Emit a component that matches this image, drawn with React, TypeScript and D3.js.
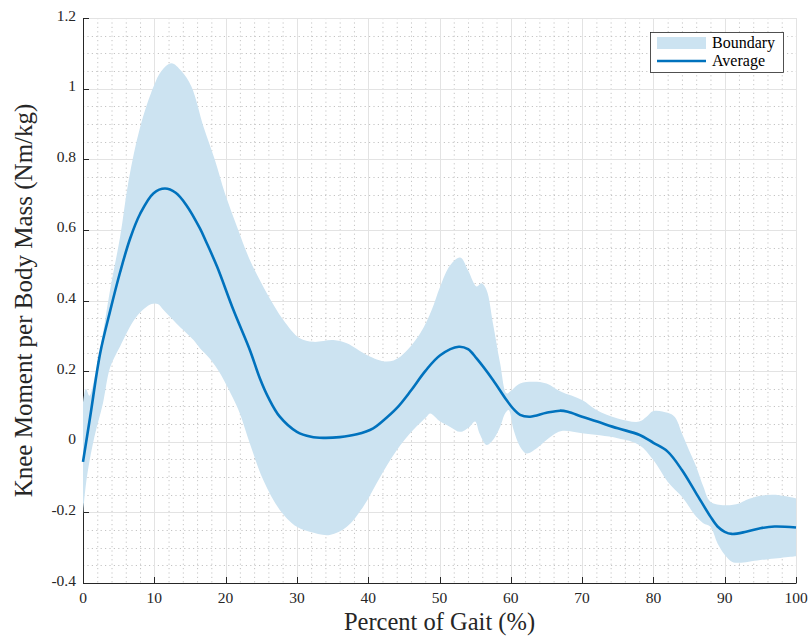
import React from 'react';
import * as d3 from 'd3';

// Upper boundary of the band (percent of gait, value)
const upperPct = [0, 0.4, 0.9, 1.6, 2.4, 3.8, 5.2, 6.4, 8, 9.9, 11, 12.4, 13.8, 15.2, 16.9, 18.5, 19.9, 21.6, 23.4, 25.8, 28.1, 30.4, 32.3, 35.1, 37, 39.8, 42.6, 44.5, 47.3, 48.9, 50.1, 51.5, 52.9, 54, 55.2, 55.9, 56.6, 57.5, 58.5, 59.4, 59.9, 61.3, 63.2, 65, 67, 70, 72, 75, 78, 79, 80, 82, 83, 84, 85, 86, 87, 88, 90, 92, 93, 95, 97, 100];
const upperVal = [0.11, 0.15, 0.13, 0.18, 0.26, 0.43, 0.58, 0.74, 0.89, 1.006, 1.05, 1.072, 1.05, 1.006, 0.892, 0.798, 0.704, 0.609, 0.515, 0.42, 0.345, 0.293, 0.283, 0.288, 0.279, 0.246, 0.227, 0.241, 0.307, 0.373, 0.44, 0.5, 0.522, 0.486, 0.44, 0.449, 0.43, 0.335, 0.222, 0.137, 0.142, 0.165, 0.17, 0.165, 0.142, 0.118, 0.09, 0.066, 0.057, 0.07, 0.087, 0.082, 0.07, 0.024, -0.024, -0.07, -0.127, -0.17, -0.18, -0.175, -0.165, -0.153, -0.15, -0.16];

// Lower boundary of the band
const lowerPct = [0, 0.3, 0.7, 1.6, 2.8, 3.8, 5.2, 7.5, 9.6, 10.5, 11.3, 13.1, 15.5, 16.4, 17.8, 19.2, 20, 21, 22, 23.4, 25.3, 27.6, 30, 31.8, 34.6, 37, 39.3, 41.7, 44, 46.3, 48.2, 48.7, 50.1, 51.5, 52.9, 54.2, 55, 55.6, 56.6, 57.5, 58.5, 59.2, 59.7, 60.4, 61.3, 62.2, 63.6, 65, 67, 70, 75, 78, 80, 82, 84, 86, 87, 88, 89, 90, 91, 92, 95, 100];
const lowerVal = [-0.205, -0.14, -0.08, 0.014, 0.109, 0.21, 0.27, 0.354, 0.39, 0.39, 0.373, 0.335, 0.288, 0.265, 0.235, 0.195, 0.165, 0.125, 0.08, -0.005, -0.109, -0.193, -0.241, -0.255, -0.264, -0.241, -0.184, -0.099, -0.024, 0.033, 0.071, 0.08, 0.057, 0.042, 0.028, 0.042, 0.057, 0.024, -0.009, 0.005, 0.042, 0.08, 0.09, 0.033, -0.014, -0.033, -0.019, 0.005, 0.03, 0.024, 0.01, -0.009, -0.052, -0.113, -0.156, -0.212, -0.231, -0.241, -0.288, -0.32, -0.34, -0.343, -0.335, -0.324];

// Average curve
const meanPct = [0, 1, 2.4, 3.8, 5.2, 6.6, 8, 9.9, 11.5, 13, 14.5, 16.4, 17.3, 18.8, 21.1, 23.4, 24.8, 26, 27.6, 30, 32, 33.7, 36, 38.4, 40.7, 42, 44, 46, 48, 50.1, 52.7, 54, 55.2, 57.5, 59.4, 60.5, 61.3, 62.7, 65, 66.9, 68, 70, 72, 75, 78, 80, 82, 84, 86, 88, 89, 90, 91, 93, 95, 97, 100];
const meanVal = [-0.057, 0.07, 0.25, 0.37, 0.48, 0.575, 0.645, 0.704, 0.717, 0.705, 0.67, 0.604, 0.565, 0.496, 0.373, 0.26, 0.18, 0.125, 0.071, 0.028, 0.014, 0.011, 0.013, 0.021, 0.038, 0.058, 0.095, 0.145, 0.2, 0.245, 0.269, 0.262, 0.236, 0.175, 0.118, 0.09, 0.076, 0.071, 0.082, 0.088, 0.085, 0.071, 0.058, 0.038, 0.02, -0.003, -0.028, -0.08, -0.146, -0.212, -0.24, -0.255, -0.261, -0.255, -0.245, -0.24, -0.243];

const xTicks = [0, 10, 20, 30, 40, 50, 60, 70, 80, 90, 100];
const xTickLabels = ['0', '10', '20', '30', '40', '50', '60', '70', '80', '90', '100'];
const yTicks = [-0.4, -0.2, 0, 0.2, 0.4, 0.6, 0.8, 1.0, 1.2];
const yTickLabels = ['-0.4', '-0.2', '0', '0.2', '0.4', '0.6', '0.8', '1', '1.2'];

const xLabel = 'Percent of Gait (%)';
const yLabel = 'Knee Moment per Body Mass (Nm/kg)';
const legendLabels = ['Boundary', 'Average'];

const FONT = '"Liberation Serif", "Times New Roman", serif';
const BAND = '#cce3f1';
const LINE = '#0072bd';
const AXIS = '#262626';

export default function App() {
  const W = 808;
  const H = 636;
  const L = 83, R = 796, T = 18, B = 583;
  const x = d3.scaleLinear().domain([0, 100]).range([L, R]);
  const y = d3.scaleLinear().domain([-0.4, 1.2]).range([B, T]);

  const up: [number, number][] = upperPct.map((p, i) => [p, upperVal[i]]);
  const lo: [number, number][] = lowerPct.map((p, i) => [p, lowerVal[i]]);
  const mn: [number, number][] = meanPct.map((p, i) => [p, meanVal[i]]);

  const curve = d3.curveCatmullRom.alpha(0.5);
  const areaBelowUpper = d3.area<[number, number]>()
    .x(d => x(d[0])).y0(B + 20).y1(d => y(d[1])).curve(curve);
  const areaAboveLower = d3.area<[number, number]>()
    .x(d => x(d[0])).y0(T - 20).y1(d => y(d[1])).curve(curve);
  const meanLine = d3.line<[number, number]>()
    .x(d => x(d[0])).y(d => y(d[1])).curve(curve);

  const minorX = d3.range(0, 101, 2).filter(v => v % 10 !== 0);
  const minorY = d3.range(-0.4, 1.2001, 0.05).filter(v => Math.abs(Math.round(v / 0.2) * 0.2 - v) > 1e-6);

  return (
    <svg width={W} height={H} style={{ position: 'absolute', left: 0, top: 0, background: '#fff' }} fontFamily={FONT}>
      <rect x={0} y={0} width={W} height={H} fill="#fff" />
      <defs>
        <clipPath id="plotArea">
          <rect x={L} y={T} width={R - L} height={B - T} />
        </clipPath>
        <clipPath id="aboveLower">
          <path d={areaAboveLower(lo) || ''} />
        </clipPath>
      </defs>
      {/* minor grid */}
      <g stroke="#c4c4c4" strokeWidth={1} strokeDasharray="1.2,3.2">
        {minorX.map(v => (
          <line key={'mx' + v} x1={x(v) + 0.5} x2={x(v) + 0.5} y1={T} y2={B} />
        ))}
        {minorY.map(v => (
          <line key={'my' + v} x1={L} x2={R} y1={Math.round(y(v)) + 0.5} y2={Math.round(y(v)) + 0.5} />
        ))}
      </g>
      {/* major grid */}
      <g stroke="#e3e3e3" strokeWidth={1}>
        {xTicks.map(v => (
          <line key={'gx' + v} x1={Math.round(x(v)) + 0.5} x2={Math.round(x(v)) + 0.5} y1={T} y2={B} />
        ))}
        {yTicks.map(v => (
          <line key={'gy' + v} x1={L} x2={R} y1={Math.round(y(v)) + 0.5} y2={Math.round(y(v)) + 0.5} />
        ))}
      </g>
      {/* axes */}
      <g stroke={AXIS} strokeWidth={1}>
        <line x1={L + 0.5} x2={L + 0.5} y1={T} y2={B + 0.5} />
        <line x1={L} x2={R + 0.5} y1={B + 0.5} y2={B + 0.5} />
        {xTicks.map(v => (
          <line key={'tx' + v} x1={Math.round(x(v)) + 0.5} x2={Math.round(x(v)) + 0.5} y1={B} y2={B - 6} />
        ))}
        {yTicks.map(v => (
          <line key={'ty' + v} x1={L} x2={L + 6} y1={Math.round(y(v)) + 0.5} y2={Math.round(y(v)) + 0.5} />
        ))}
      </g>
      {/* band */}
      <g clipPath="url(#plotArea)">
        <path d={areaBelowUpper(up) || ''} fill={BAND} clipPath="url(#aboveLower)" />
      </g>
      {/* mean */}
      <path d={meanLine(mn) || ''} fill="none" stroke={LINE} strokeWidth={2.6} strokeLinejoin="round" />
      {/* tick labels */}
      <g fontSize={15.5} fill={AXIS}>
        {xTicks.map((v, i) => (
          <text key={'lx' + v} x={x(v)} y={603} textAnchor="middle">{xTickLabels[i]}</text>
        ))}
        {yTicks.map((v, i) => (
          <text key={'ly' + v} x={76} y={y(v) + 2.5} textAnchor="end">{yTickLabels[i]}</text>
        ))}
      </g>
      {/* axis labels */}
      <text x={(L + R) / 2} y={630} textAnchor="middle" fontSize={24.5} fill={AXIS}>{xLabel}</text>
      <text transform={`translate(32,${(T + B) / 2}) rotate(-90)`} textAnchor="middle" fontSize={25} fill={AXIS}>{yLabel}</text>
      {/* legend */}
      <g>
        <rect x={650.5} y={32.5} width={133} height={40} fill="#fff" stroke={AXIS} strokeWidth={0.8} />
        <rect x={657} y={37} width={49} height={12} fill={BAND} />
        <line x1={657} x2={706} y1={61} y2={61} stroke={LINE} strokeWidth={2.6} />
        <text x={712} y={48} fontSize={16} fill="#000">{legendLabels[0]}</text>
        <text x={712} y={66} fontSize={16} fill="#000">{legendLabels[1]}</text>
      </g>
    </svg>
  );
}
